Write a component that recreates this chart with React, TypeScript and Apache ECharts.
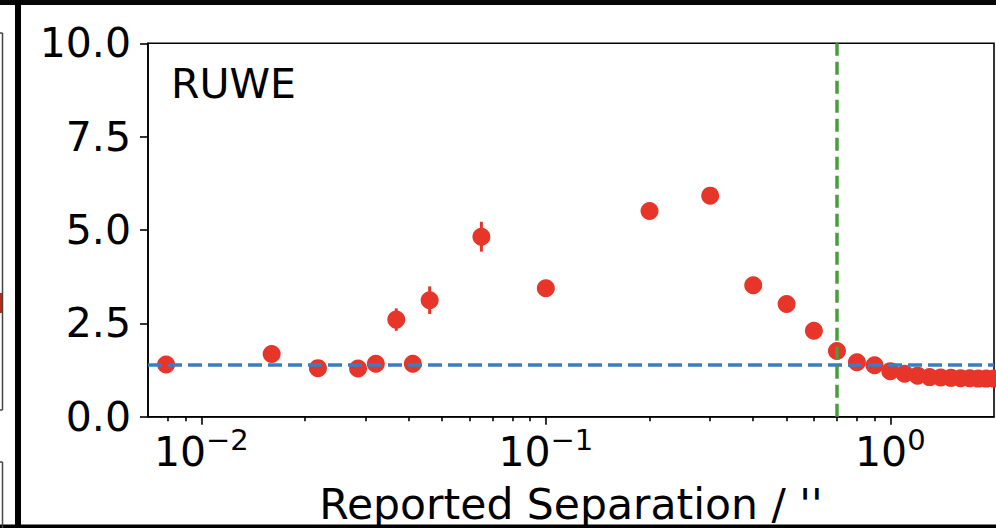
import React, { useEffect, useRef } from "react";
import * as echarts from "echarts";

// ---- data ----
const separations = [
  0.0079, 0.016, 0.0218, 0.0285, 0.0321, 0.0368, 0.0411, 0.046, 0.065, 0.1,
  0.2, 0.3, 0.4, 0.5, 0.6, 0.7, 0.8, 0.9, 1.0, 1.1, 1.2, 1.3, 1.4, 1.5, 1.6,
  1.7, 1.8, 1.9, 2.0,
];
const ruwe = [
  1.4, 1.68, 1.3, 1.29, 1.42, 2.6, 1.42, 3.12, 4.82, 3.44,
  5.51, 5.92, 3.52, 3.02, 2.3, 1.76, 1.46, 1.38, 1.22, 1.15, 1.1, 1.06, 1.05, 1.04, 1.03,
  1.03, 1.02, 1.02, 1.02,
];
const ruweErr = [
  0.05, 0.08, 0.05, 0.05, 0.05, 0.3, 0.05, 0.37, 0.4, 0.1,
  0.1, 0.1, 0.08, 0.06, 0.05, 0.04, 0.03, 0.03, 0.02, 0.02, 0.02, 0.02, 0.02, 0.02, 0.02,
  0.02, 0.02, 0.02, 0.02,
];
const ruweThreshold = 1.4;
const separationCut = 0.7;
const xMin = 0.007;
const xMax = 2;
const majorTicks = [0.01, 0.1, 1];
const minorTicks = [
  0.008, 0.009, 0.02, 0.03, 0.04, 0.05, 0.06, 0.07, 0.08, 0.09,
  0.2, 0.3, 0.4, 0.5, 0.6, 0.7, 0.8, 0.9,
];
const yMin = 0;
const yMax = 10;
const yStep = 2.5;
const panelLabel = "RUWE";
const xTitle = "Reported Separation / ''";

const FONT = "DejaVu Sans";
const FS = 41;
const RED = "#e8352a";
const BLUE = "#3a7ebf";
const GREEN = "#4a9d3c";

export default function App() {
  const ref = useRef<HTMLDivElement>(null);

  useEffect(() => {
    if (!ref.current) return;
    const chart = echarts.init(ref.current, undefined, { renderer: "svg" });

    const points = separations.map((s, i) => [s, ruwe[i]]);
    const errData = separations.map((s, i) => [s, ruwe[i], ruweErr[i]]);
    const axisLineStyle = { color: "#000", width: 1.6 };

    const option: any = {
      animation: false,
      backgroundColor: "#ffffff",
      title: {
        text: panelLabel,
        left: 171,
        top: 63,
        padding: 0,
        textStyle: { fontFamily: FONT, fontSize: FS, fontWeight: "normal", color: "#000" },
      },
      grid: {
        left: 148,
        right: 2,
        top: 43.3,
        bottom: 111.3,
        containLabel: false,
        outerBoundsMode: "none",
        show: true,
        borderColor: "#000",
        borderWidth: 1.6,
        backgroundColor: "transparent",
      },
      xAxis: [
        {
          type: "log",
          logBase: 10,
          min: xMin,
          max: xMax,
          position: "bottom",
          name: xTitle,
          nameLocation: "middle",
          nameGap: 66,
          nameTextStyle: { fontFamily: FONT, fontSize: 42.5, color: "#000" },
          axisLine: { show: true, lineStyle: axisLineStyle },
          axisTick: { show: true, length: 8, lineStyle: axisLineStyle, customValues: majorTicks },
          axisLabel: {
            show: true,
            customValues: majorTicks,
            margin: 15,
            formatter: (v: number) => {
              const e = Math.round(Math.log10(v));
              const s = e < 0 ? "\u2212" + Math.abs(e) : String(e);
              return "{b|10}{s|" + s + "}";
            },
            rich: {
              b: { fontFamily: FONT, fontSize: FS, lineHeight: 41, color: "#000", verticalAlign: "bottom" },
              s: {
                fontFamily: FONT,
                fontSize: 29,
                lineHeight: 29,
                color: "#000",
                verticalAlign: "bottom",
                padding: [0, 0, 18, 0],
              },
            },
          },
          splitLine: { show: false },
          minorTick: { show: false },
          minorSplitLine: { show: false },
        },
        {
          type: "log",
          logBase: 10,
          min: xMin,
          max: xMax,
          position: "bottom",
          axisLine: { show: false },
          axisTick: { show: true, length: 4.5, lineStyle: axisLineStyle, customValues: minorTicks },
          axisLabel: { show: false },
          splitLine: { show: false },
          minorTick: { show: false },
        },
      ],
      yAxis: {
        type: "value",
        min: yMin,
        max: yMax,
        interval: yStep,
        axisLine: { show: true, lineStyle: axisLineStyle },
        axisTick: { show: true, length: 8, lineStyle: axisLineStyle },
        axisLabel: {
          formatter: (v: number) => v.toFixed(1),
          fontFamily: FONT,
          fontSize: FS,
          color: "#000",
          margin: 17,
        },
        splitLine: { show: false },
      },
      series: [
        {
          type: "custom",
          xAxisIndex: 0,
          z: 2,
          data: errData,
          encode: { x: 0, y: 1 },
          renderItem: (params: any, api: any) => {
            const x = api.value(0);
            const y = api.value(1);
            const e = api.value(2);
            const p1 = api.coord([x, y - e]);
            const p2 = api.coord([x, y + e]);
            return {
              type: "line",
              shape: { x1: p1[0], y1: p1[1], x2: p2[0], y2: p2[1] },
              style: { stroke: RED, lineWidth: 3 },
            };
          },
          markLine: {
            silent: true,
            animation: false,
            symbol: ["none", "none"],
            label: { show: false },
            data: [
              { yAxis: ruweThreshold, lineStyle: { color: BLUE, width: 3.5, type: [14, 6] } },
              { xAxis: separationCut, lineStyle: { color: GREEN, width: 3.5, type: [13, 6] } },
            ],
          },
        },
        {
          type: "scatter",
          xAxisIndex: 0,
          z: 3,
          data: points,
          symbol: "circle",
          symbolSize: 18,
          itemStyle: { color: RED, opacity: 1 },
        },
      ],
      graphic: [
        { type: "rect", z: 100, shape: { x: 0, y: 0, width: 996, height: 5 }, style: { fill: "#070707" } },
        { type: "rect", z: 100, shape: { x: 15, y: 0, width: 6, height: 528 }, style: { fill: "#000" } },
        { type: "rect", z: 100, shape: { x: 0, y: 524.5, width: 996, height: 4 }, style: { fill: "#000" } },
        { type: "line", z: 100, shape: { x1: 2.5, y1: 33, x2: 2.5, y2: 410 }, style: { stroke: "#444", lineWidth: 1.5 } },
        { type: "line", z: 100, shape: { x1: 0, y1: 33, x2: 2.5, y2: 33 }, style: { stroke: "#444", lineWidth: 1.5 } },
        { type: "line", z: 100, shape: { x1: 0, y1: 410, x2: 2.5, y2: 410 }, style: { stroke: "#444", lineWidth: 1.5 } },
        { type: "line", z: 100, shape: { x1: 2.5, y1: 462, x2: 2.5, y2: 528 }, style: { stroke: "#444", lineWidth: 1.5 } },
        { type: "line", z: 100, shape: { x1: 0, y1: 462, x2: 2.5, y2: 462 }, style: { stroke: "#444", lineWidth: 1.5 } },
        { type: "rect", z: 100, shape: { x: 0, y: 293, width: 2, height: 20 }, style: { fill: "#b8281e" } },
      ],
    };

    chart.setOption(option);
    return () => chart.dispose();
  }, []);

  return (
    <div
      style={{ position: "fixed", left: 0, top: 0, width: 996, height: 528, background: "#fff" }}
    >
      <div ref={ref} style={{ width: 996, height: 528 }} />
    </div>
  );
}
